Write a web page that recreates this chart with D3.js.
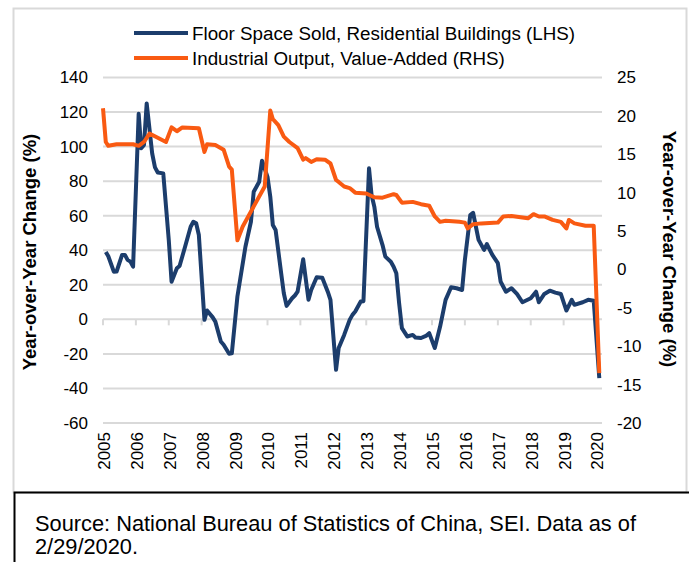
<!DOCTYPE html>
<html>
<head>
<meta charset="utf-8">
<script src="https://cdn.jsdelivr.net/npm/d3@7"></script>
<style>
  body { margin: 0; background: #fff; }
  svg { display: block; font-family: "Liberation Sans", Arial, sans-serif; }
</style>
</head>
<body>
<div class="vis-chart"></div>
<script>
// Floor space sold, residential buildings (LHS, % y/y)
const floorMonths = ["2005-02","2005-03","2005-05","2005-06","2005-08","2005-09","2005-10","2005-11","2005-12",
    "2006-02","2006-03","2006-04","2006-05","2006-07","2006-08","2006-09","2006-11","2007-01","2007-02","2007-04",
    "2007-05","2007-07","2007-09","2007-10","2007-11","2007-12","2008-02","2008-03","2008-05","2008-06","2008-08",
    "2008-09","2008-11","2008-12","2009-02","2009-05","2009-07","2009-08","2009-10","2009-11","2010-01","2010-02",
    "2010-03","2010-04","2010-06","2010-07","2010-08","2010-10","2010-11","2010-12","2011-02","2011-04","2011-05",
    "2011-07","2011-09","2011-11","2011-12","2012-02","2012-03","2012-05","2012-07","2012-08","2012-09","2012-11",
    "2012-12","2013-02","2013-03","2013-04","2013-05","2013-07","2013-08","2013-10","2013-11","2013-12","2014-01",
    "2014-02","2014-04","2014-06","2014-07","2014-09","2014-11","2014-12","2015-02","2015-04","2015-06","2015-08",
    "2015-10","2015-12","2016-01","2016-03","2016-04","2016-06","2016-08","2016-09","2016-11","2017-01","2017-02",
    "2017-04","2017-06","2017-08","2017-10","2018-01","2018-03","2018-04","2018-06","2018-08","2018-10","2018-12",
    "2019-02","2019-04","2019-05","2019-08","2019-10","2019-12","2020-02"];
const floorValues = [39, 36.5, 27.6, 27.7, 37.3, 37.3, 34.4, 33.4, 30.5,
    119, 99, 101, 125, 96, 88, 85, 84.5, 46, 21.8, 29.6,
    30.9, 42, 53.6, 56.5, 55.6, 48.8, -0.3, 5.1, 1.3, -1.3, -12.8,
    -14.7, -19.9, -19.7, 13.2, 42, 56.5, 73.9, 79.6, 91.8, 82.5, 71,
    54.6, 51.7, 27, 15.1, 7.8, 12.2, 13.8, 16, 34.8, 11.3, 17,
    24.4, 24.1, 16, 11.3, -29.2, -16.6, -9, -0.3, 2.6, 4.5, 10.3,
    10.5, 87.4, 72, 65.2, 53.6, 43, 36.3, 33.4, 30.5, 26.7, 9.4,
    -5.1, -9.9, -9, -10.5, -10.8, -9.4, -8, -16.6, -4.2, 11.3, 18.6,
    18, 17, 34.4, 60.4, 61.7, 46, 40.2, 43.6, 37.3, 32.5, 21.8,
    16, 18, 14.7, 9.9, 12.2, 16, 9.9, 14.7, 16.6, 15.5, 14.7,
    5.1, 11.3, 8.4, 9.9, 11.3, 10.8, -34];

// Industrial output, value-added (RHS, % y/y)
const outputMonths = ["2005-01","2005-02","2005-03","2005-06","2005-09","2005-12","2006-02","2006-04","2006-06",
    "2006-12","2007-02","2007-04","2007-06","2007-12","2008-02","2008-03","2008-06","2008-09","2008-11","2008-12",
    "2009-02","2009-04","2009-12","2010-02","2010-03","2010-05","2010-07","2010-09","2010-12","2011-02","2011-03",
    "2011-05","2011-07","2011-10","2011-12","2012-02","2012-03","2012-05","2012-07","2012-09","2013-01","2013-04",
    "2013-07","2013-11","2013-12","2014-02","2014-06","2014-09","2014-12","2015-02","2015-04","2015-06","2015-11",
    "2016-01","2016-02","2016-04","2016-07","2017-01","2017-03","2017-06","2017-12","2018-02","2018-04","2018-06",
    "2018-09","2018-12","2019-02","2019-03","2019-05","2019-09","2019-12","2020-02"];
const outputValues = [21, 16.6, 16.1, 16.3, 16.3, 16.3, 16.1, 16.6, 17.7,
    16.6, 18.5, 18, 18.5, 18.4, 15.3, 16.3, 16.2, 15.6, 13.4, 13,
    3.8, 5.6, 10.8, 20.7, 19.6, 18.8, 17.3, 16.6, 15.8, 14.3, 14.5,
    14, 14.35, 14.3, 13.8, 11.65, 11.4, 10.8, 10.6, 10, 9.9, 9.4,
    9.35, 9.8, 9.7, 8.7, 8.8, 8.5, 8.3, 6.9, 6.2, 6.35, 6.2,
    6.1, 5.35, 5.9, 6, 6.1, 6.9, 6.97, 6.66, 7.2, 6.9, 6.9,
    6.45, 6.2, 5.35, 6.45, 6, 5.7, 5.7, -13.5];

const leftTicks = [-60, -40, -20, 0, 20, 40, 60, 80, 100, 120, 140];
const rightTicks = [-20, -15, -10, -5, 0, 5, 10, 15, 20, 25];
const yearTicks = d3.range(2005, 2021);

const BLUE = "#1c3d6c";
const ORANGE = "#f95a12";
const GRID = "#d9d9d9";

const draw = () => {
    const W = 689, H = 562;
    const plot = { left: 103, right: 602, top: 77.5, bottom: 423 };

    const svg = d3.select(".vis-chart")
        .append("svg")
        .attr("width", W)
        .attr("height", H);

    // outer frame + source box
    svg.append("rect")
        .attr("x", 13.5).attr("y", 8.5)
        .attr("width", 673).attr("height", 484)
        .attr("fill", "none").attr("stroke", GRID).attr("stroke-width", 2);
    svg.append("path")
        .attr("d", "M14.5,562 V492.5 H689")
        .attr("fill", "none").attr("stroke", "#000").attr("stroke-width", 2);

    const parse = d3.timeParse("%Y-%m");
    const x = d3.scaleTime()
        .domain([new Date(2005, 0, 1), new Date(2020, 0, 1)])
        .range([plot.left, 596.5]);
    const yL = d3.scaleLinear().domain([-60, 140]).range([plot.bottom, plot.top]);
    const yR = d3.scaleLinear().domain([-20, 25]).range([plot.bottom, plot.top]);

    // gridlines
    svg.append("g")
        .selectAll("line")
        .data(leftTicks)
        .join("line")
        .attr("x1", plot.left).attr("x2", plot.right)
        .attr("y1", d => yL(d)).attr("y2", d => yL(d))
        .attr("stroke", GRID).attr("stroke-width", 2);

    // year ticks on zero line
    svg.append("g")
        .selectAll("line")
        .data(yearTicks)
        .join("line")
        .attr("x1", d => x(new Date(d, 0, 1))).attr("x2", d => x(new Date(d, 0, 1)))
        .attr("y1", yL(0)).attr("y2", yL(0) + 6)
        .attr("stroke", GRID).attr("stroke-width", 2);

    // left axis labels
    svg.append("g")
        .selectAll("text")
        .data(leftTicks)
        .join("text")
        .attr("x", 88)
        .attr("y", d => yL(d))
        .attr("dy", "0.35em")
        .attr("text-anchor", "end")
        .attr("font-size", "17px")
        .attr("fill", "#000")
        .text(d => d);

    // right axis labels
    svg.append("g")
        .selectAll("text")
        .data(rightTicks)
        .join("text")
        .attr("x", 617)
        .attr("y", d => yR(d))
        .attr("dy", "0.35em")
        .attr("text-anchor", "start")
        .attr("font-size", "17px")
        .attr("fill", "#000")
        .text(d => d);

    // year labels (rotated)
    svg.append("g")
        .selectAll("text")
        .data(yearTicks)
        .join("text")
        .attr("transform", d => "translate(" + (x(new Date(d, 0, 1)) + 1) + ",432) rotate(-90)")
        .attr("dy", "0.35em")
        .attr("text-anchor", "end")
        .attr("font-size", "17px")
        .attr("fill", "#000")
        .text(d => d);

    // axis titles
    svg.append("text")
        .attr("transform", "translate(30,252) rotate(-90)")
        .attr("dy", "0.35em")
        .attr("text-anchor", "middle")
        .attr("font-size", "18.5px")
        .style("font-weight", "bold")
        .text("Year-over-Year Change (%)");
    svg.append("text")
        .attr("transform", "translate(669,249) rotate(90)")
        .attr("dy", "0.35em")
        .attr("text-anchor", "middle")
        .attr("font-size", "18.5px")
        .style("font-weight", "bold")
        .text("Year-over-Year Change (%)");

    // lines
    const floorData = floorMonths.map((m, i) => ({ date: parse(m), value: floorValues[i] }));
    const outputData = outputMonths.map((m, i) => ({ date: parse(m), value: outputValues[i] }));

    svg.append("path")
        .datum(floorData)
        .attr("fill", "none")
        .attr("stroke", BLUE)
        .attr("stroke-width", 4)
        .attr("stroke-linejoin", "round")
        .attr("d", d3.line().x(d => x(d.date)).y(d => yL(d.value)));

    svg.append("path")
        .datum(outputData)
        .attr("fill", "none")
        .attr("stroke", ORANGE)
        .attr("stroke-width", 4)
        .attr("stroke-linejoin", "round")
        .attr("d", d3.line().x(d => x(d.date)).y(d => yR(d.value)));

    // legend
    const legend = [
        { label: "Floor Space Sold, Residential Buildings (LHS)", color: BLUE },
        { label: "Industrial Output, Value-Added (RHS)", color: ORANGE }
    ];
    const lg = svg.append("g")
        .selectAll("g")
        .data(legend)
        .join("g")
        .attr("transform", (d, i) => "translate(0," + (33 + i * 25) + ")");
    lg.append("line")
        .attr("x1", 134).attr("x2", 188)
        .attr("stroke", d => d.color).attr("stroke-width", 4);
    lg.append("text")
        .attr("x", 192)
        .attr("dy", "0.35em")
        .attr("font-size", "18.8px")
        .text(d => d.label);

    // source note
    const note = ["Source: National Bureau of Statistics of China, SEI. Data as of", "2/29/2020."];
    svg.append("g")
        .selectAll("text")
        .data(note)
        .join("text")
        .attr("x", 35)
        .attr("y", (d, i) => 523 + i * 23)
        .attr("dy", "0.35em")
        .attr("font-size", "21.8px")
        .text(d => d);

    return svg;
}

draw();
</script>
</body>
</html>
